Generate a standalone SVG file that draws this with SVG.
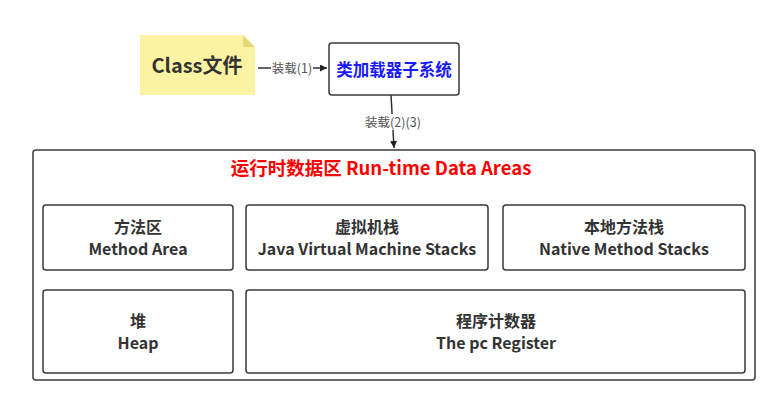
<svg xmlns="http://www.w3.org/2000/svg" width="767" height="411" viewBox="0 0 767 411">
<style>
.box{fill:#fff;stroke:#3a3a3a;stroke-width:1.5}
.t{font-family:"Noto Sans CJK SC","Noto Sans",sans-serif;font-weight:bold;fill:#333;text-anchor:middle;font-size:16px}
.lbl{font-family:"Noto Sans CJK SC","Noto Sans",sans-serif;fill:#555;font-size:12.5px;text-anchor:middle}
.ln{stroke:#333;stroke-width:1.5;fill:none}
</style>
<defs>
<marker id="ah" viewBox="0 0 10 10" refX="10" refY="5" markerWidth="7" markerHeight="7" orient="auto" markerUnits="userSpaceOnUse">
<path d="M0,0 L10,5 L0,10 z" fill="#222"/>
</marker>
</defs>
<rect width="767" height="411" fill="#fff"/>
<g id="class-file">
<path d="M140,35 L243,35 L255,47 L255,95 L140,95 z" fill="#fbf3a2"/>
<path d="M243,35 L255,47 L243,47 z" fill="#e6d97a"/>
<text x="197" y="73" class="t" style="font-size:20px;fill:#333">Class文件</text>
</g>
<g id="loader">
<rect x="329" y="43" width="130" height="52" rx="3" class="box"/>
<text x="394" y="76" class="t" style="fill:#1a1aff;font-size:16.5px">类加载器子系统</text>
</g>
<g id="connectors">
<line x1="258" y1="68" x2="327" y2="68" class="ln" marker-end="url(#ah)"/>
<rect x="271" y="60" width="42" height="16" fill="#fff"/>
<text x="292" y="73" class="lbl">装载(1)</text>
<line x1="391" y1="95" x2="394" y2="148" class="ln" marker-end="url(#ah)"/>
<rect x="362" y="114" width="62" height="16" fill="#fff"/>
<text x="393" y="127" class="lbl">装载(2)(3)</text>
</g>
<g id="runtime">
<rect x="33" y="150" width="722" height="230" rx="3" class="box"/>
<text x="381" y="175" class="t" style="fill:#f00;font-size:18.5px">运行时数据区 Run-time Data Areas</text>
</g>
<g id="method-area">
<rect x="43" y="205" width="190" height="65" rx="3" class="box"/>
<text x="138" y="233" class="t">方法区</text>
<text x="138" y="255" class="t">Method Area</text>
</g>
<g id="jvm-stacks">
<rect x="246" y="205" width="242" height="65" rx="3" class="box"/>
<text x="367" y="233" class="t">虚拟机栈</text>
<text x="367" y="255" class="t">Java Virtual Machine Stacks</text>
</g>
<g id="native-stacks">
<rect x="503" y="205" width="242" height="65" rx="3" class="box"/>
<text x="624" y="233" class="t">本地方法栈</text>
<text x="624" y="255" class="t">Native Method Stacks</text>
</g>
<g id="heap">
<rect x="43" y="290" width="190" height="83" rx="3" class="box"/>
<text x="138" y="327" class="t">堆</text>
<text x="138" y="349" class="t">Heap</text>
</g>
<g id="pc-register">
<rect x="246" y="290" width="499" height="83" rx="3" class="box"/>
<text x="496" y="327" class="t">程序计数器</text>
<text x="496" y="349" class="t">The pc Register</text>
</g>
</svg>
